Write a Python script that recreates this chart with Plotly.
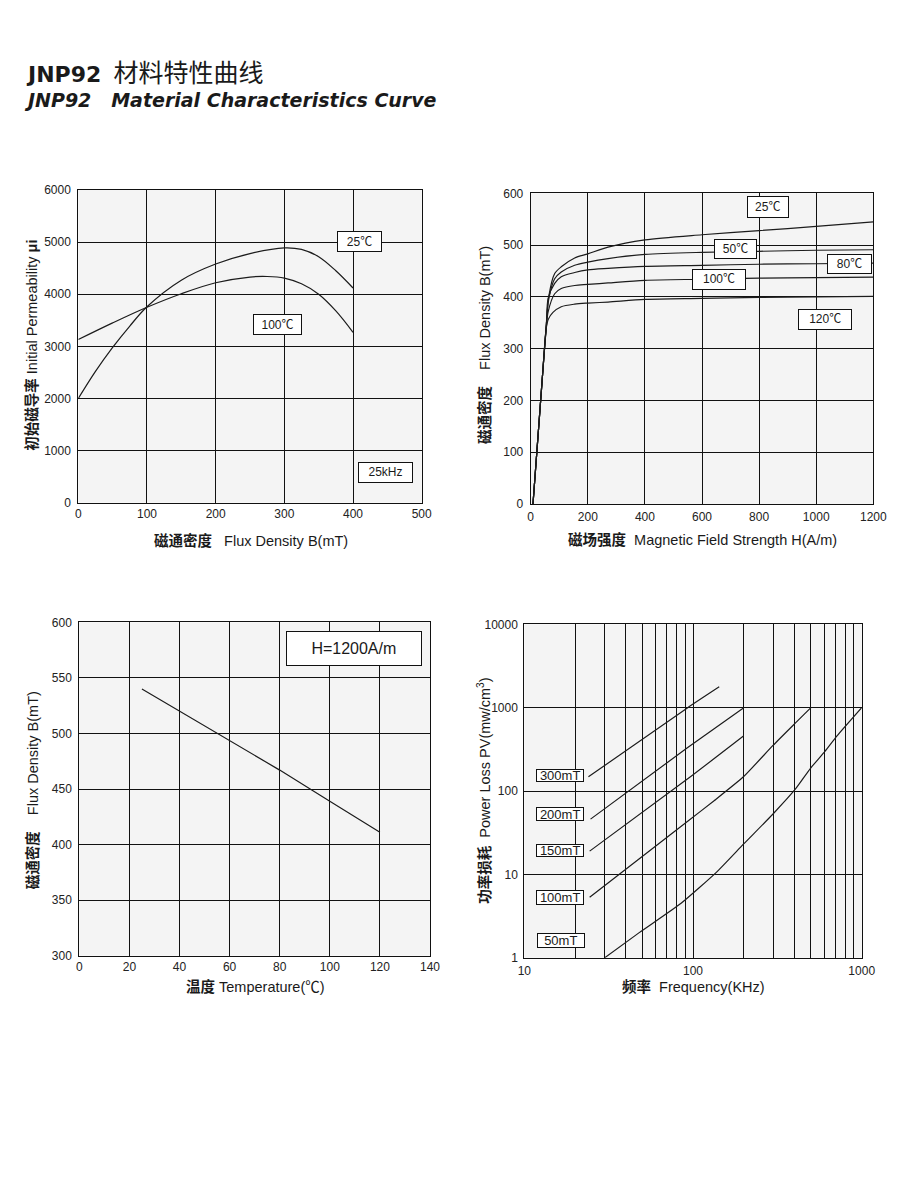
import plotly.graph_objects as go

# ---------------- DATA ----------------
# Chart 1: Initial permeability vs flux density (25 kHz)
perm_B_25 = [0, 25, 50, 75, 100, 150, 200, 250, 300, 325, 350, 375, 400]
perm_mu_25 = [2000, 2520, 2980, 3390, 3760, 4270, 4580, 4780, 4890, 4860, 4720, 4450, 4120]
perm_B_100 = [0, 50, 100, 150, 200, 250, 275, 300, 325, 350, 375, 400]
perm_mu_100 = [3130, 3450, 3750, 4010, 4220, 4330, 4340, 4310, 4200, 4000, 3680, 3270]

# Chart 2: B-H curves
bh_H_25 = [8, 44, 55, 63, 84, 107, 154, 200, 271, 400, 600, 800, 1000, 1200]
bh_B_25 = [0, 268, 350, 400, 445, 458, 475, 483, 496, 510, 520, 528, 536, 545]
bh_H_50 = [8, 44, 55, 63, 84, 107, 154, 200, 271, 400, 600, 800, 1000, 1200]
bh_B_50 = [0, 268, 348, 395, 435, 448, 461, 467, 474, 482, 486, 488, 490, 491]
bh_H_80 = [8, 44, 55, 61, 84, 107, 154, 200, 271, 400, 600, 800, 1000, 1200]
bh_B_80 = [0, 268, 345, 397, 426, 439, 447, 452, 455, 459, 461, 463, 464, 465]
bh_H_100 = [8, 44, 55, 61, 84, 107, 154, 200, 271, 400, 600, 800, 1000, 1200]
bh_B_100 = [0, 268, 343, 371, 406, 416, 422, 424, 427, 432, 434, 436, 437, 438]
bh_H_120 = [8, 44, 54, 62, 78, 107, 154, 200, 271, 400, 600, 800, 1000, 1200]
bh_B_120 = [0, 268, 338, 357, 370, 381, 386, 388, 390, 395, 397, 399, 400, 401]

# Chart 3: Flux density vs temperature at H=1200A/m
temp_C = [25, 40, 60, 80, 100, 120]
temp_B = [540, 520, 494, 467, 439, 411]

# Chart 4: Power loss vs frequency
pl_f_300 = [24, 93, 143]
pl_pv_300 = [148, 1000, 1780]
pl_f_200 = [24.7, 92.6, 200]
pl_pv_200 = [46, 330, 1000]
pl_f_150 = [24.4, 92.6, 200]
pl_pv_150 = [19, 139, 460]
pl_f_100 = [24.4, 92.6, 134, 199, 298, 408, 500]
pl_pv_100 = [5.3, 43, 77, 148, 352, 665, 1000]
pl_f_50 = [30, 48, 85, 137, 199, 298, 404, 497, 607, 714, 1000]
pl_pv_50 = [1, 2.0, 4.5, 10.5, 23, 53, 105, 187, 301, 459, 1000]

freq_major = [10, 100, 1000]
freq_minor = [20, 30, 40, 50, 60, 70, 80, 90, 200, 300, 400, 500, 600, 700, 800, 900]
pv_ticks = [1, 10, 100, 1000, 10000]
pv_text = ["1", "10", "100", "1000", "10000"]

# ---------------- FIGURE ----------------
W, H = 900, 1191
LINE = dict(color="#1c1c1c", width=1.2)
TICKFONT = dict(family="Liberation Sans, Arial, sans-serif", size=12, color="#222")
LAT = "Liberation Sans, Arial, Noto Sans CJK SC, sans-serif"


def px_x(x):
    return x / W


def px_y(y):
    return 1 - y / H


fig = go.Figure()

fig.add_trace(go.Scatter(x=perm_B_25, y=perm_mu_25, mode="lines", line=dict(**LINE, shape="spline"),
                         xaxis="x", yaxis="y"))
fig.add_trace(go.Scatter(x=perm_B_100, y=perm_mu_100, mode="lines", line=dict(**LINE, shape="spline"),
                         xaxis="x", yaxis="y"))

for hh, bb in [(bh_H_25, bh_B_25), (bh_H_50, bh_B_50), (bh_H_80, bh_B_80),
               (bh_H_100, bh_B_100), (bh_H_120, bh_B_120)]:
    fig.add_trace(go.Scatter(x=hh, y=bb, mode="lines", line=dict(**LINE, shape="spline", smoothing=0.8),
                             xaxis="x2", yaxis="y2"))

fig.add_trace(go.Scatter(x=temp_C, y=temp_B, mode="lines", line=LINE, xaxis="x3", yaxis="y3"))

for ff, pv in [(pl_f_300, pl_pv_300), (pl_f_200, pl_pv_200), (pl_f_150, pl_pv_150),
               (pl_f_100, pl_pv_100), (pl_f_50, pl_pv_50)]:
    fig.add_trace(go.Scatter(x=ff, y=pv, mode="lines", line=dict(**LINE, shape="spline", smoothing=0.5),
                             xaxis="x4", yaxis="y4"))


def axis(domain, anchor, standoff, **kw):
    d = dict(domain=domain, anchor=anchor, showgrid=True, gridcolor="#111", gridwidth=1,
             showline=True, linecolor="#111", linewidth=1, mirror=True, ticks="",
             zeroline=False, tickfont=TICKFONT, ticklabelstandoff=standoff, fixedrange=True,
             automargin=False)
    d.update(kw)
    return d


# plot areas in pixels
P1 = (78.3, 421.7, 190, 502.7)
P2 = (530.7, 873.3, 193.3, 504)
P3 = (79.3, 430, 622.3, 955.7)
P4 = (524.3, 861.7, 624.3, 957.7)


def dom(p):
    return [px_x(p[0]), px_x(p[1])], [px_y(p[3]), px_y(p[2])]


d1x, d1y = dom(P1)
d2x, d2y = dom(P2)
d3x, d3y = dom(P3)
d4x, d4y = dom(P4)

fig.update_layout(
    width=W, height=H, margin=dict(l=0, r=0, t=0, b=0, pad=0), autosize=False,
    paper_bgcolor="white", plot_bgcolor="#f4f4f4", showlegend=False,
    xaxis=axis(d1x, "y", 0, range=[0, 500], dtick=100, tick0=0),
    yaxis=axis(d1y, "x", 4, range=[0, 6000], dtick=1000, tick0=0),
    xaxis2=axis(d2x, "y2", 2, range=[0, 1200], dtick=200, tick0=0),
    yaxis2=axis(d2y, "x2", 4, range=[0, 600], dtick=100, tick0=0),
    xaxis3=axis(d3x, "y3", 0, range=[0, 140], dtick=20, tick0=0),
    yaxis3=axis(d3y, "x3", 4, range=[300, 600], dtick=50, tick0=300),
    xaxis4=axis(d4x, "y4", 2, type="log", range=[1, 3], tickmode="array",
                tickvals=freq_major, ticktext=[str(v) for v in freq_major],
                minor=dict(tickmode="array", tickvals=freq_minor, showgrid=True,
                           gridcolor="#111", gridwidth=1, ticks="")),
    yaxis4=axis(d4y, "x4", 3, type="log", range=[0, 4], tickmode="array",
                tickvals=pv_ticks, ticktext=pv_text),
)

anns = []


def text_ann(text, x, y, size, family=LAT, xanchor="center", angle=0, color="#1a1a1a"):
    anns.append(dict(text=text, x=px_x(x), y=px_y(y), xref="paper", yref="paper",
                     xanchor=xanchor, yanchor="middle", showarrow=False, textangle=angle,
                     align="left", font=dict(family=family, size=size, color=color)))


def box_ann(text, x0, x1, y0, y1, size):
    anns.append(dict(text=text, x=px_x((x0 + x1) / 2), y=px_y((y0 + y1) / 2),
                     xref="paper", yref="paper", xanchor="center", yanchor="middle",
                     showarrow=False, width=x1 - x0 - 2, height=y1 - y0 - 2,
                     bgcolor="white", bordercolor="#111", borderwidth=1, borderpad=0,
                     font=dict(family=LAT, size=size, color="#1a1a1a")))


NB = "\u00a0"
# Title (two lines in one block)
TF = "DejaVu Sans, Liberation Sans, sans-serif"
title_text = (
    "<span style='font-size:22px'><b>JNP92</b></span>" + NB * 2
    + "<span style='font-family:Noto Sans CJK SC;font-size:25px'>材料特性曲线</span>"
    + "<br><b><i>JNP92" + NB * 2 + " Material Characteristics Curve</i></b>"
)
text_ann(title_text, 22, 82, 19, family=TF, xanchor="left")

# Axis titles
text_ann("<b>磁通密度</b>" + NB * 3 + "Flux Density B(mT)", 250.8, 540, 14.5)
text_ann("<b>初始磁导率</b> Initial Permeability <b>μi</b>", 31.7, 345, 14.5, angle=-90)
text_ann("<b>磁场强度</b>" + NB * 2 + "Magnetic Field Strength H(A/m)", 702.3, 539.3, 14.5)
text_ann("<b>磁通密度</b>" + NB * 4 + "Flux Density B(mT)", 485, 345, 14.5, angle=-90)
text_ann("<b>温度</b> Temperature(℃)", 255.5, 986.7, 14.5)
text_ann("<b>磁通密度</b>" + NB * 4 + "Flux Density B(mT)", 32.3, 790, 14.5, angle=-90)
text_ann("<b>频率</b>" + NB * 2 + "Frequency(KHz)", 693, 986.7, 14.5)
text_ann("<b>功率损耗</b>" + NB * 2 + "Power Loss PV(mw/cm<sup>3</sup>)", 484, 790.8, 14.5, angle=-90)

# Curve label boxes
box_ann("25℃", 337.3, 382.3, 230.7, 251.7, 12)
box_ann("100℃", 253.3, 302.3, 314.3, 335.3, 12)
box_ann("25kHz", 358.3, 413.3, 461.7, 482.3, 12)

box_ann("25℃", 746.7, 788.3, 196.7, 218.3, 12)
box_ann("50℃", 714.3, 757.3, 239, 259.3, 12)
box_ann("80℃", 826.7, 871.7, 254, 274.3, 12)
box_ann("100℃", 692.3, 746.3, 269.3, 290, 12)
box_ann("120℃", 797.3, 851.7, 309.3, 330, 12)

box_ann("H=1200A/m", 286, 421.7, 631, 665.7, 16)

box_ann("300mT", 536, 584.3, 768.3, 781.7, 13)
box_ann("200mT", 536, 584.3, 806.7, 821, 13)
box_ann("150mT", 536, 584.3, 843.3, 856.7, 13)
box_ann("100mT", 536, 584.3, 890, 905, 13)
box_ann("50mT", 536.7, 584.3, 933.3, 948.3, 13)

fig.update_layout(annotations=anns)
fig.write_html(
    "out.html",
    config={"displayModeBar": False},
    post_script="document.body.style.margin='0px';document.body.style.overflow='hidden';",
)
